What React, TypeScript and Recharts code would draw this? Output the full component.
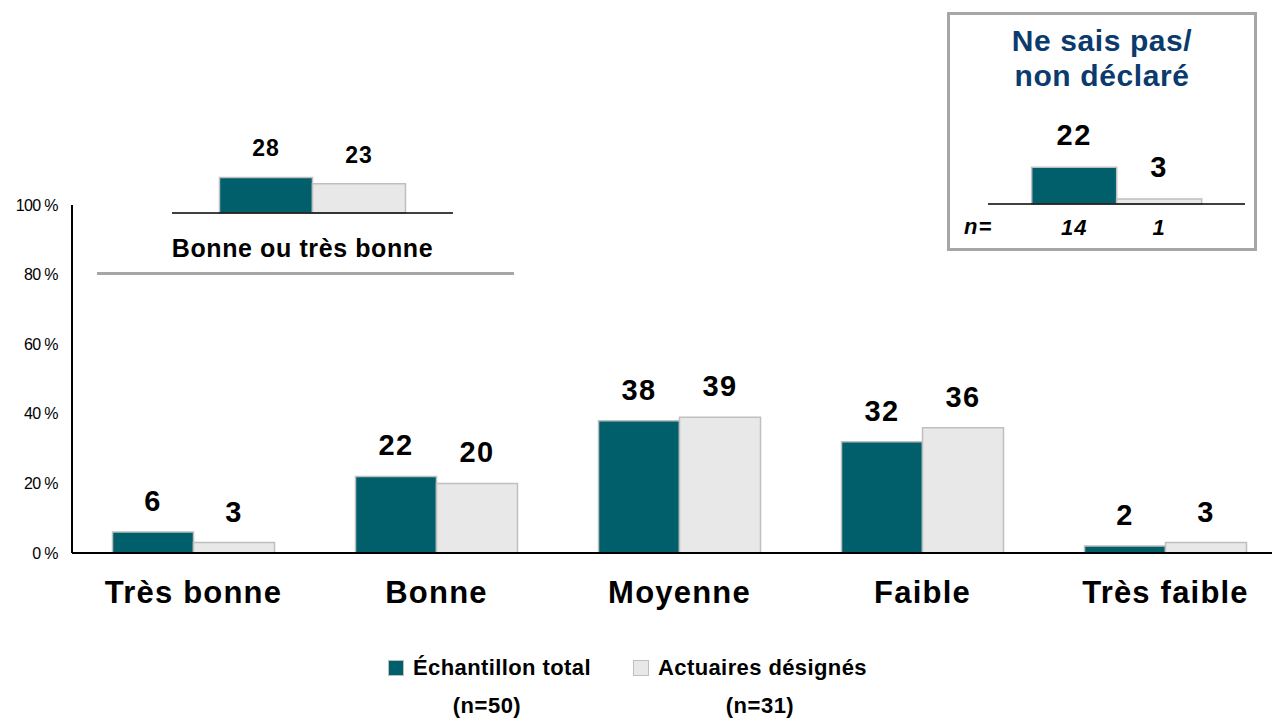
import React from 'react';
import { BarChart, Bar, XAxis, YAxis, LabelList } from 'recharts';

// main question
const categories = ['Très bonne', 'Bonne', 'Moyenne', 'Faible', 'Très faible'];
const totalValues = [6, 22, 38, 32, 2];
const actuairesValues = [3, 20, 39, 36, 3];
const yTicks = [0, 20, 40, 60, 80, 100];

// regroupement "bonne ou très bonne"
const groupLabel = 'Bonne ou très bonne';
const groupTotal = 28;
const groupActuaires = 23;

// ne sais pas / non déclaré
const nspLabel = 'Ne sais pas/ non déclaré';
const nspTotal = 22;
const nspActuaires = 3;
const nspCounts = [14, 1];

const seriesNames = ['Échantillon total', 'Actuaires désignés'];
const seriesN = ['(n=50)', '(n=31)'];

const TEAL = '#005F6A';
const GREY = '#E8E8E8';
const EDGE = '#BFBFBF';
const NAVY = '#0B3A6C';
const FONT = '"Liberation Sans", Arial, sans-serif';

const mainData = categories.map((c, i) => ({ name: c, total: totalValues[i], actuaires: actuairesValues[i] }));
const groupData = [{ name: groupLabel, total: groupTotal, actuaires: groupActuaires }];
const nspData = [{ name: nspLabel, total: nspTotal, actuaires: nspActuaires }];

const labelStyle = { fill: '#000', fontSize: 29, fontWeight: 700, fontFamily: FONT, letterSpacing: 1.5 };

const CountLabel = (idx: number) => (props: any) => {
  const { x, y, width, height } = props;
  return (
    <text x={x + width / 2} y={y + height + 31} textAnchor="middle" fontSize={22} fontWeight={700}
      fontStyle="italic" fontFamily={FONT} fill="#000" letterSpacing={1}>
      {nspCounts[idx]}
    </text>
  );
};

export default function App() {
  return (
    <div style={{ position: 'relative', width: 1272, height: 718, overflow: 'hidden', background: '#fff', fontFamily: FONT }}>
      <style>{`body{margin:0;overflow:hidden}`}</style>

      {/* main chart */}
      <div style={{ position: 'absolute', left: 0, top: 0 }}>
        <BarChart width={1300} height={718} data={mainData} barCategoryGap="16.67%" barGap={0}
          margin={{ top: 205, right: 13, left: 0, bottom: 105 }}>
          <XAxis dataKey="name" height={60} axisLine={{ stroke: '#000', strokeWidth: 2 }} tickLine={false}
            tickMargin={22} interval={0}
            tick={{ fill: '#000', fontSize: 31, fontWeight: 700, fontFamily: FONT, letterSpacing: 1.2 }} />
          <YAxis width={72} domain={[0, 100]} ticks={yTicks} interval={0} tickLine={false} tickMargin={8}
            axisLine={{ stroke: '#000', strokeWidth: 2 }} tickFormatter={(v) => `${v} %`}
            tick={{ fill: '#000', fontSize: 16, fontFamily: FONT, letterSpacing: -0.6 }} />
          <Bar dataKey="total" fill={TEAL} stroke={EDGE} strokeWidth={1.5} isAnimationActive={false}>
            <LabelList dataKey="total" position="top" offset={21} style={labelStyle} />
          </Bar>
          <Bar dataKey="actuaires" fill={GREY} stroke={EDGE} strokeWidth={1.5} isAnimationActive={false}>
            <LabelList dataKey="actuaires" position="top" offset={21} style={labelStyle} />
          </Bar>
        </BarChart>
      </div>

      {/* bonne ou très bonne */}
      <div style={{ position: 'absolute', left: 172, top: 80 }}>
        <BarChart width={281} height={183} data={groupData} barCategoryGap="16.9%" barGap={0}
          margin={{ top: 6, right: 0, left: 0, bottom: 0 }}>
          <XAxis dataKey="name" height={50} axisLine={{ stroke: '#000', strokeWidth: 1.5 }} tickLine={false}
            tickSize={0} tickMargin={26}
            tick={{ fill: '#000', fontSize: 25, fontWeight: 700, fontFamily: FONT, dx: -10, letterSpacing: 0.6 }} />
          <YAxis hide domain={[0, 100]} />
          <Bar dataKey="total" fill={TEAL} stroke={EDGE} strokeWidth={1.5} isAnimationActive={false}>
            <LabelList dataKey="total" position="top" offset={21} style={{ ...labelStyle, fontSize: 23, letterSpacing: 1 }} />
          </Bar>
          <Bar dataKey="actuaires" fill={GREY} stroke={EDGE} strokeWidth={1.5} isAnimationActive={false}>
            <LabelList dataKey="actuaires" position="top" offset={21} style={{ ...labelStyle, fontSize: 23, letterSpacing: 1 }} />
          </Bar>
        </BarChart>
      </div>
      <div style={{ position: 'absolute', left: 97, top: 272, width: 417, height: 3, background: '#A6A6A6' }} />

      {/* ne sais pas / non déclaré */}
      <div style={{ position: 'absolute', left: 947, top: 12, width: 310, height: 239, border: '3px solid #A6A6A6', boxSizing: 'border-box' }} />
      <div style={{ position: 'absolute', left: 950, top: 23, width: 304, textAlign: 'center', color: NAVY,
        fontSize: 30, fontWeight: 700, lineHeight: '35px', letterSpacing: 0.6 }}>
        Ne sais pas/<br />non déclaré
      </div>
      <div style={{ position: 'absolute', left: 988, top: 110 }}>
        <BarChart width={257} height={134} data={nspData} barCategoryGap="17%" barGap={0}
          margin={{ top: 27, right: 0, left: 0, bottom: 0 }}>
          <XAxis dataKey="name" height={40} axisLine={{ stroke: '#000', strokeWidth: 1.5 }} tickLine={false} tick={false} />
          <YAxis hide domain={[0, 40]} />
          <Bar dataKey="total" fill={TEAL} stroke={EDGE} strokeWidth={1.5} isAnimationActive={false}>
            <LabelList dataKey="total" position="top" offset={22} style={labelStyle} />
            <LabelList dataKey="total" content={CountLabel(0)} />
          </Bar>
          <Bar dataKey="actuaires" fill={GREY} stroke={EDGE} strokeWidth={1.5} isAnimationActive={false}>
            <LabelList dataKey="actuaires" position="top" offset={22} style={labelStyle} />
            <LabelList dataKey="actuaires" content={CountLabel(1)} />
          </Bar>
        </BarChart>
      </div>
      <div style={{ position: 'absolute', left: 964, top: 214, fontSize: 22, fontWeight: 700, fontStyle: 'italic', letterSpacing: 1 }}>n=</div>

      {/* legend */}
      {seriesNames.map((s, i) => (
        <div key={s} style={{ position: 'absolute', left: i === 0 ? 388 : 633, top: 655, display: 'flex', alignItems: 'center' }}>
          <span style={{ display: 'inline-block', width: 14, height: 14, background: i === 0 ? TEAL : GREY,
            border: `1px solid ${EDGE}`, marginRight: 9 }} />
          <span style={{ fontSize: 22, fontWeight: 700, color: '#000', letterSpacing: 0.4 }}>{s}</span>
        </div>
      ))}
      {seriesN.map((n, i) => (
        <div key={n} style={{ position: 'absolute', left: (i === 0 ? 487 : 760) - 60, width: 120, top: 693,
          textAlign: 'center', fontSize: 22, fontWeight: 700, color: '#000', letterSpacing: 0.5 }}>{n}</div>
      ))}
    </div>
  );
}
